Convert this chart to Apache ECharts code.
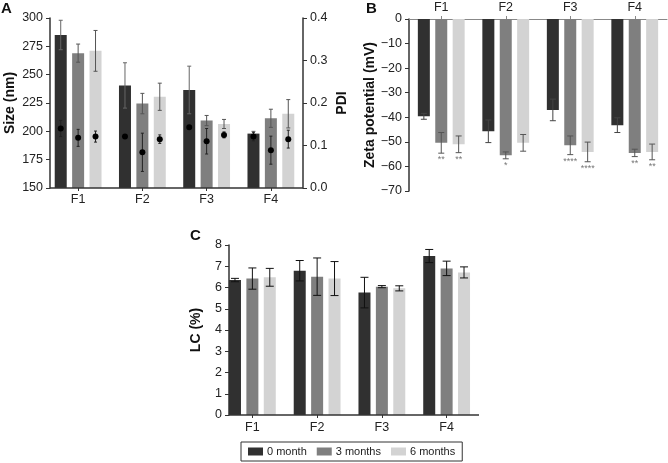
<!DOCTYPE html>
<html><head><meta charset="utf-8">
<script src="https://cdn.jsdelivr.net/npm/echarts@6/dist/echarts.min.js"></script>
<style>html,body{margin:0;padding:0;background:#fff}#c{width:668px;height:463px}</style>
</head><body><div id="c"></div>
<script>
// ---- data ----
const categories = ['F1', 'F2', 'F3', 'F4'];
const seriesNames = ['0 month', '3 months', '6 months'];

// Panel A: particle size (nm)
const size0 = [285, 240.5, 236.5, 198];
const size0Err = [13, 20, 21, 2];
const size3 = [269, 224.5, 209.5, 211.5];
const size3Err = [8, 9, 4.5, 8];
const size6 = [271, 230.5, 206.5, 215.5];
const size6Err = [18, 12, 4, 12.5];
// Panel A: PDI
const pdi0 = [0.140, 0.121, 0.143, 0.121];
const pdi0Err = [0.019, 0.004, 0.004, 0.010];
const pdi3 = [0.118, 0.084, 0.110, 0.089];
const pdi3Err = [0.020, 0.045, 0.030, 0.033];
const pdi6 = [0.121, 0.115, 0.125, 0.115];
const pdi6Err = [0.013, 0.010, 0.007, 0.021];

// Panel B: zeta potential (mV)
const zeta0 = [-39.6, -45.7, -37.0, -43.2];
const zeta0Err = [1.2, 4.6, 4.4, 3.0];
const zeta3 = [-50.4, -55.5, -51.4, -54.5];
const zeta3Err = [4.2, 1.4, 3.8, 1.5];
const zeta6 = [-51.0, -50.4, -54.1, -54.1];
const zeta6Err = [3.4, 3.4, 4.0, 3.2];
const zetaSig0 = ['', '', '', ''];
const zetaSig3 = ['**', '*', '****', '**'];
const zetaSig6 = ['**', '', '****', '**'];

// Panel C: LC (%)
const lc0 = [6.35, 6.79, 5.76, 7.48];
const lc0Err = [0.08, 0.48, 0.72, 0.31];
const lc3 = [6.42, 6.51, 6.04, 6.90];
const lc3Err = [0.50, 0.88, 0.05, 0.34];
const lc6 = [6.48, 6.42, 5.96, 6.71];
const lc6Err = [0.42, 0.80, 0.12, 0.26];

// ---- style / layout ----
const COLORS = ['#303030', '#7f7f7f', '#d3d3d3'];
const BAR_W = 12, BAR_GAP = 0.45;
const FONT = 'Arial, "Liberation Sans", sans-serif';
const GA = {left: 46, top: 18, width: 257, height: 170, yOff: 4};
const GB = {left: 409, top: 19, width: 258, height: 172};
const GC = {left: 220, top: 245, width: 259, height: 170, yOff: 9};
const AX = '#333';
const LBL = {color: '#222', fontSize: 12.5, fontFamily: FONT};
const NAME = {color: '#111', fontSize: 14, fontWeight: 'bold', fontFamily: FONT};

function bars(name, data, color, xi, yi) {
  return {name, type: 'bar', xAxisIndex: xi, yAxisIndex: yi, data,
    barWidth: BAR_W, barGap: (BAR_GAP * 100) + '%',
    itemStyle: {color}, emphasis: {disabled: true}, z: 2};
}
function errs(vals, es, slot, xi, yi, color, cap, dot, labels) {
  return {type: 'custom', xAxisIndex: xi, yAxisIndex: yi, z: 5, silent: true,
    data: vals.map((v, i) => [i, v, es[i]]),
    renderItem(params, api) {
      const i = api.value(0), v = api.value(1), e = api.value(2);
      const dx = (slot - 1) * BAR_W * (1 + BAR_GAP);
      const p = api.coord([i, v]), hi = api.coord([i, v + e]), lo = api.coord([i, v - e]);
      const x = p[0] + dx;
      const st = {stroke: color, lineWidth: 1};
      const ch = [
        {type: 'line', shape: {x1: x, y1: hi[1], x2: x, y2: lo[1]}, style: st},
        {type: 'line', shape: {x1: x - cap / 2, y1: hi[1], x2: x + cap / 2, y2: hi[1]}, style: st},
        {type: 'line', shape: {x1: x - cap / 2, y1: lo[1], x2: x + cap / 2, y2: lo[1]}, style: st}
      ];
      if (dot) ch.push({type: 'circle', shape: {cx: x, cy: p[1], r: dot}, style: {fill: '#000'}});
      const t = labels ? labels[params.dataIndex] : '';
      if (t) ch.push({type: 'text', style: {text: t, x: x, y: lo[1] + 2, align: 'center',
        verticalAlign: 'top', fill: '#777', font: '9px ' + FONT}});
      return {type: 'group', children: ch};
    }};
}
function catAxis(gi, extra) {
  return Object.assign({type: 'category', gridIndex: gi, data: categories,
    axisLine: {show: false}, axisTick: {show: true, alignWithLabel: true, length: 3, lineStyle: {color: AX}},
    axisLabel: Object.assign({margin: 5}, LBL)}, extra || {});
}
function valAxis(gi, min, max, interval, extra) {
  return Object.assign({type: 'value', gridIndex: gi, min, max, interval,
    splitLine: {show: false},
    axisLine: {show: true, lineStyle: {color: AX, width: 1.5}},
    axisTick: {show: true, length: 4, lineStyle: {color: AX}},
    axisLabel: Object.assign({margin: 7}, LBL),
    nameLocation: 'middle', nameRotate: 90, nameTextStyle: NAME}, extra || {});
}

const chart = echarts.init(document.getElementById('c'), null, {renderer: 'canvas'});
chart.setOption({
  animation: false,
  backgroundColor: '#fff',
  textStyle: {fontFamily: FONT},
  grid: [
    {left: GA.left, top: GA.top, width: GA.width, height: GA.height},
    {left: GB.left, top: GB.top, width: GB.width, height: GB.height},
    {left: GC.left, top: GC.top, width: GC.width, height: GC.height}
  ],
  xAxis: [
    catAxis(0),
    catAxis(1, {position: 'top', axisLine: {show: true, lineStyle: {color: '#888', width: 1}},
      axisTick: {show: true, alignWithLabel: true, length: 3, lineStyle: {color: '#888'}}}),
    catAxis(2, {axisLabel: Object.assign({margin: 6}, LBL)})
  ],
  yAxis: [
    valAxis(0, 150, 300, 25, {offset: -GA.yOff, name: 'Size (nm)', nameGap: 33}),
    valAxis(0, 0, 0.4, 0.1, {position: 'right', name: 'PDI', nameGap: 32,
      axisLabel: Object.assign({margin: 7, formatter: v => v.toFixed(1)}, LBL)}),
    valAxis(1, -70, 0, 10, {name: 'Zeta potential (mV)', nameGap: 30,
      axisLabel: Object.assign({margin: 7, formatter: v => String(v).replace('-', '\u2212')}, LBL)}),
    valAxis(2, 0, 8, 1, {offset: -GC.yOff, name: 'LC (%)', nameGap: 26})
  ],
  legend: {
    data: seriesNames, left: 241, top: 442, orient: 'horizontal',
    borderColor: '#333', borderWidth: 1, padding: [4, 7, 4, 7],
    itemWidth: 15, itemHeight: 8, itemGap: 10, icon: 'rect',
    textStyle: {color: '#222', fontSize: 11, fontFamily: FONT, padding: [0, 0, 0, -1]}
  },
  graphic: [
    {type: 'text', left: 1, top: 1, style: {text: 'A', font: 'bold 15px ' + FONT, fill: '#111'}},
    {type: 'text', left: 366, top: 1, style: {text: 'B', font: 'bold 15px ' + FONT, fill: '#111'}},
    {type: 'text', left: 190, top: 228, style: {text: 'C', font: 'bold 15px ' + FONT, fill: '#111'}},
    {type: 'line', shape: {x1: GA.left + GA.yOff, y1: GA.top + GA.height, x2: GA.left + GA.width, y2: GA.top + GA.height},
      style: {stroke: AX, lineWidth: 1.5}, z: 10},
    {type: 'line', shape: {x1: GC.left + GC.yOff, y1: GC.top + GC.height, x2: GC.left + GC.width, y2: GC.top + GC.height},
      style: {stroke: AX, lineWidth: 1.5}, z: 10}
  ],
  series: [
    bars(seriesNames[0], size0, COLORS[0], 0, 0),
    bars(seriesNames[1], size3, COLORS[1], 0, 0),
    bars(seriesNames[2], size6, COLORS[2], 0, 0),
    errs(size0, size0Err, 0, 0, 0, '#666', 4, 0),
    errs(size3, size3Err, 1, 0, 0, '#555', 4, 0),
    errs(size6, size6Err, 2, 0, 0, '#555', 4, 0),
    errs(pdi0, pdi0Err, 0, 0, 1, '#222', 3, 3),
    errs(pdi3, pdi3Err, 1, 0, 1, '#222', 3, 3),
    errs(pdi6, pdi6Err, 2, 0, 1, '#222', 3, 3),

    bars(seriesNames[0], zeta0, COLORS[0], 1, 2),
    bars(seriesNames[1], zeta3, COLORS[1], 1, 2),
    bars(seriesNames[2], zeta6, COLORS[2], 1, 2),
    errs(zeta0, zeta0Err, 0, 1, 2, '#444', 6, 0, zetaSig0),
    errs(zeta3, zeta3Err, 1, 1, 2, '#555', 6, 0, zetaSig3),
    errs(zeta6, zeta6Err, 2, 1, 2, '#555', 6, 0, zetaSig6),

    bars(seriesNames[0], lc0, COLORS[0], 2, 3),
    bars(seriesNames[1], lc3, COLORS[1], 2, 3),
    bars(seriesNames[2], lc6, COLORS[2], 2, 3),
    errs(lc0, lc0Err, 0, 2, 3, '#111', 8, 0),
    errs(lc3, lc3Err, 1, 2, 3, '#111', 8, 0),
    errs(lc6, lc6Err, 2, 2, 3, '#111', 8, 0)
  ]
});
</script></body></html>
